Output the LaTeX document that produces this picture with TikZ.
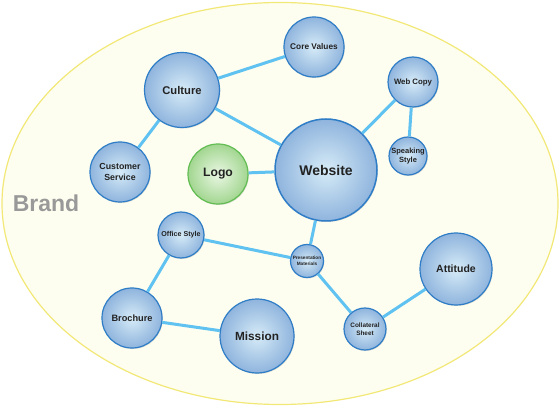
\documentclass[tikz,border=0pt]{standalone}
\usepackage{fontspec}
\setmainfont{Liberation Sans}
\usetikzlibrary{shadows}
\definecolor{brandfill}{HTML}{FEFEF0}
\definecolor{brandline}{HTML}{F2E878}
\definecolor{bubin}{HTML}{D6EBF7}
\definecolor{bubout}{HTML}{8FB4DD}
\definecolor{bubline}{HTML}{2E7DC6}
\definecolor{logoin}{HTML}{EAF7E4}
\definecolor{logoout}{HTML}{A2D690}
\definecolor{logoline}{HTML}{62BD52}
\definecolor{linkcol}{HTML}{60C2F0}
\definecolor{txt}{HTML}{222222}

\begin{document}
\begin{tikzpicture}[
    x=1pt, y=-1pt,
    bubble/.style={circle, draw=bubline, line width=1.2pt, inner sep=0pt,
                   inner color=bubin, outer color=bubout, align=center,
                   text=txt, font=\bfseries,
                   drop shadow={shadow xshift=0.8pt, shadow yshift=-1pt, opacity=0.25}},
    logo/.style={bubble, draw=logoline, inner color=logoin, outer color=logoout},
    link/.style={draw=linkcol, line width=3pt}
]
\useasboundingbox (0,0) rectangle (560,406);
\draw[fill=brandfill, draw=brandline, line width=1.2pt] (280,203.5) ellipse [x radius=278, y radius=201];
\node[text=gray!80, font=\bfseries\fontsize{23}{26}\selectfont] (brand) at (46,203) {Brand};

% bubbles
\node[bubble, minimum size=75pt, font=\bfseries\fontsize{11.2}{13}\selectfont] (culture) at (182,90) {Culture};
\node[bubble, minimum size=60pt, font=\bfseries\fontsize{8.3}{10}\selectfont] (core) at (314,47) {Core Values};
\node[bubble, minimum size=50pt, font=\bfseries\fontsize{7.8}{9}\selectfont] (webcopy) at (413,82) {Web Copy};
\node[bubble, minimum size=38pt, font=\bfseries\fontsize{7.5}{9}\selectfont] (speaking) at (408,156) {Speaking\\Style};
\node[bubble, minimum size=102pt, line width=1.5pt, font=\bfseries\fontsize{14}{16}\selectfont] (website) at (326,170) {Website};
\node[logo, minimum size=60pt, font=\bfseries\fontsize{12.2}{14}\selectfont] (logo) at (218,174) {Logo};
\node[bubble, minimum size=60pt, font=\bfseries\fontsize{8.8}{10.6}\selectfont] (customer) at (120,172) {Customer\\Service};
\node[bubble, minimum size=46pt, font=\bfseries\fontsize{7.1}{8.5}\selectfont] (office) at (181,235) {Office Style};
\node[bubble, minimum size=33pt, font=\bfseries\fontsize{4.7}{5.6}\selectfont] (present) at (307,261) {Presentation\\Materials};
\node[bubble, minimum size=72pt, font=\bfseries\fontsize{10.5}{12}\selectfont] (attitude) at (456,269) {Attitude};
\node[bubble, minimum size=60pt, font=\bfseries\fontsize{9.2}{11}\selectfont] (brochure) at (132,318) {Brochure};
\node[bubble, minimum size=74pt, font=\bfseries\fontsize{11.8}{14}\selectfont] (mission) at (257,336) {Mission};
\node[bubble, minimum size=42pt, font=\bfseries\fontsize{6.4}{7.6}\selectfont] (collateral) at (365,329) {Collateral\\Sheet};

% links
\draw[link] (culture) -- (core);
\draw[link] (culture) -- (website);
\draw[link] (culture) -- (customer);
\draw[link] (logo) -- (website);
\draw[link] (website) -- (webcopy);
\draw[link] (webcopy) -- (speaking);
\draw[link] (website) -- (present);
\draw[link] (office) -- (present);
\draw[link] (office) -- (brochure);
\draw[link] (brochure) -- (mission);
\draw[link] (present) -- (collateral);
\draw[link] (collateral) -- (attitude);
\end{tikzpicture}
\end{document}
